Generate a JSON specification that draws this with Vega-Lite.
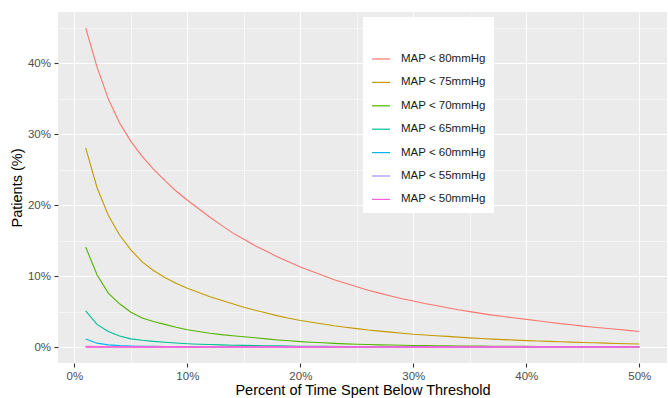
{
  "$schema": "https://vega.github.io/schema/vega-lite/v6.json",
  "width": 609,
  "height": 351,
  "autosize": {"type": "none"},
  "padding": {"left": 58, "top": 12, "right": 1, "bottom": 35},
  "background": "white",
  "config": {
    "view": {"fill": "#EBEBEB", "stroke": null},
    "font": "Liberation Sans"
  },
  "data": {
    "values": [
      {"s": "MAP < 80mmHg", "t": 1, "p": 45.0}, {"s": "MAP < 80mmHg", "t": 2, "p": 39.5}, {"s": "MAP < 80mmHg", "t": 3, "p": 35.0}, {"s": "MAP < 80mmHg", "t": 4, "p": 31.6}, {"s": "MAP < 80mmHg", "t": 5, "p": 29.0},
      {"s": "MAP < 80mmHg", "t": 6, "p": 26.9}, {"s": "MAP < 80mmHg", "t": 7, "p": 25.1}, {"s": "MAP < 80mmHg", "t": 8, "p": 23.5}, {"s": "MAP < 80mmHg", "t": 9, "p": 22.0}, {"s": "MAP < 80mmHg", "t": 10, "p": 20.7},
      {"s": "MAP < 80mmHg", "t": 11, "p": 19.5}, {"s": "MAP < 80mmHg", "t": 12, "p": 18.3}, {"s": "MAP < 80mmHg", "t": 13, "p": 17.2}, {"s": "MAP < 80mmHg", "t": 14, "p": 16.1}, {"s": "MAP < 80mmHg", "t": 15, "p": 15.2},
      {"s": "MAP < 80mmHg", "t": 16, "p": 14.3}, {"s": "MAP < 80mmHg", "t": 17, "p": 13.5}, {"s": "MAP < 80mmHg", "t": 18, "p": 12.7}, {"s": "MAP < 80mmHg", "t": 19, "p": 12.0}, {"s": "MAP < 80mmHg", "t": 20, "p": 11.3},
      {"s": "MAP < 80mmHg", "t": 21, "p": 10.7}, {"s": "MAP < 80mmHg", "t": 22, "p": 10.1}, {"s": "MAP < 80mmHg", "t": 23, "p": 9.5}, {"s": "MAP < 80mmHg", "t": 24, "p": 9.0}, {"s": "MAP < 80mmHg", "t": 25, "p": 8.5},
      {"s": "MAP < 80mmHg", "t": 26, "p": 8.0}, {"s": "MAP < 80mmHg", "t": 27, "p": 7.6}, {"s": "MAP < 80mmHg", "t": 28, "p": 7.2}, {"s": "MAP < 80mmHg", "t": 29, "p": 6.8}, {"s": "MAP < 80mmHg", "t": 30, "p": 6.5},
      {"s": "MAP < 80mmHg", "t": 31, "p": 6.15}, {"s": "MAP < 80mmHg", "t": 32, "p": 5.85}, {"s": "MAP < 80mmHg", "t": 33, "p": 5.55}, {"s": "MAP < 80mmHg", "t": 34, "p": 5.25}, {"s": "MAP < 80mmHg", "t": 35, "p": 5.0},
      {"s": "MAP < 80mmHg", "t": 36, "p": 4.75}, {"s": "MAP < 80mmHg", "t": 37, "p": 4.5}, {"s": "MAP < 80mmHg", "t": 38, "p": 4.3}, {"s": "MAP < 80mmHg", "t": 39, "p": 4.1}, {"s": "MAP < 80mmHg", "t": 40, "p": 3.9},
      {"s": "MAP < 80mmHg", "t": 41, "p": 3.7}, {"s": "MAP < 80mmHg", "t": 42, "p": 3.5}, {"s": "MAP < 80mmHg", "t": 43, "p": 3.3}, {"s": "MAP < 80mmHg", "t": 44, "p": 3.15}, {"s": "MAP < 80mmHg", "t": 45, "p": 2.95},
      {"s": "MAP < 80mmHg", "t": 46, "p": 2.8}, {"s": "MAP < 80mmHg", "t": 47, "p": 2.65}, {"s": "MAP < 80mmHg", "t": 48, "p": 2.5}, {"s": "MAP < 80mmHg", "t": 49, "p": 2.35}, {"s": "MAP < 80mmHg", "t": 50, "p": 2.2},

      {"s": "MAP < 75mmHg", "t": 1, "p": 28.1}, {"s": "MAP < 75mmHg", "t": 2, "p": 22.5}, {"s": "MAP < 75mmHg", "t": 3, "p": 18.6}, {"s": "MAP < 75mmHg", "t": 4, "p": 15.8}, {"s": "MAP < 75mmHg", "t": 5, "p": 13.7},
      {"s": "MAP < 75mmHg", "t": 6, "p": 12.0}, {"s": "MAP < 75mmHg", "t": 7, "p": 10.8}, {"s": "MAP < 75mmHg", "t": 8, "p": 9.8}, {"s": "MAP < 75mmHg", "t": 9, "p": 9.0}, {"s": "MAP < 75mmHg", "t": 10, "p": 8.3},
      {"s": "MAP < 75mmHg", "t": 11, "p": 7.7}, {"s": "MAP < 75mmHg", "t": 12, "p": 7.1}, {"s": "MAP < 75mmHg", "t": 13, "p": 6.6}, {"s": "MAP < 75mmHg", "t": 14, "p": 6.1}, {"s": "MAP < 75mmHg", "t": 15, "p": 5.6},
      {"s": "MAP < 75mmHg", "t": 16, "p": 5.2}, {"s": "MAP < 75mmHg", "t": 17, "p": 4.8}, {"s": "MAP < 75mmHg", "t": 18, "p": 4.4}, {"s": "MAP < 75mmHg", "t": 19, "p": 4.05}, {"s": "MAP < 75mmHg", "t": 20, "p": 3.75},
      {"s": "MAP < 75mmHg", "t": 21, "p": 3.5}, {"s": "MAP < 75mmHg", "t": 22, "p": 3.25}, {"s": "MAP < 75mmHg", "t": 23, "p": 3.0}, {"s": "MAP < 75mmHg", "t": 24, "p": 2.8}, {"s": "MAP < 75mmHg", "t": 25, "p": 2.6},
      {"s": "MAP < 75mmHg", "t": 26, "p": 2.4}, {"s": "MAP < 75mmHg", "t": 27, "p": 2.25}, {"s": "MAP < 75mmHg", "t": 28, "p": 2.1}, {"s": "MAP < 75mmHg", "t": 29, "p": 1.95}, {"s": "MAP < 75mmHg", "t": 30, "p": 1.8},
      {"s": "MAP < 75mmHg", "t": 31, "p": 1.7}, {"s": "MAP < 75mmHg", "t": 32, "p": 1.6}, {"s": "MAP < 75mmHg", "t": 33, "p": 1.5}, {"s": "MAP < 75mmHg", "t": 34, "p": 1.4}, {"s": "MAP < 75mmHg", "t": 35, "p": 1.3},
      {"s": "MAP < 75mmHg", "t": 36, "p": 1.2}, {"s": "MAP < 75mmHg", "t": 37, "p": 1.12}, {"s": "MAP < 75mmHg", "t": 38, "p": 1.05}, {"s": "MAP < 75mmHg", "t": 39, "p": 0.98}, {"s": "MAP < 75mmHg", "t": 40, "p": 0.9},
      {"s": "MAP < 75mmHg", "t": 41, "p": 0.85}, {"s": "MAP < 75mmHg", "t": 42, "p": 0.8}, {"s": "MAP < 75mmHg", "t": 43, "p": 0.75}, {"s": "MAP < 75mmHg", "t": 44, "p": 0.7}, {"s": "MAP < 75mmHg", "t": 45, "p": 0.65},
      {"s": "MAP < 75mmHg", "t": 46, "p": 0.6}, {"s": "MAP < 75mmHg", "t": 47, "p": 0.55}, {"s": "MAP < 75mmHg", "t": 48, "p": 0.5}, {"s": "MAP < 75mmHg", "t": 49, "p": 0.46}, {"s": "MAP < 75mmHg", "t": 50, "p": 0.42},

      {"s": "MAP < 70mmHg", "t": 1, "p": 14.1}, {"s": "MAP < 70mmHg", "t": 2, "p": 10.2}, {"s": "MAP < 70mmHg", "t": 3, "p": 7.6}, {"s": "MAP < 70mmHg", "t": 4, "p": 6.1}, {"s": "MAP < 70mmHg", "t": 5, "p": 4.9},
      {"s": "MAP < 70mmHg", "t": 6, "p": 4.1}, {"s": "MAP < 70mmHg", "t": 7, "p": 3.6}, {"s": "MAP < 70mmHg", "t": 8, "p": 3.2}, {"s": "MAP < 70mmHg", "t": 9, "p": 2.8}, {"s": "MAP < 70mmHg", "t": 10, "p": 2.45},
      {"s": "MAP < 70mmHg", "t": 11, "p": 2.2}, {"s": "MAP < 70mmHg", "t": 12, "p": 1.95}, {"s": "MAP < 70mmHg", "t": 13, "p": 1.75}, {"s": "MAP < 70mmHg", "t": 14, "p": 1.6}, {"s": "MAP < 70mmHg", "t": 15, "p": 1.45},
      {"s": "MAP < 70mmHg", "t": 16, "p": 1.3}, {"s": "MAP < 70mmHg", "t": 17, "p": 1.15}, {"s": "MAP < 70mmHg", "t": 18, "p": 1.0}, {"s": "MAP < 70mmHg", "t": 19, "p": 0.88}, {"s": "MAP < 70mmHg", "t": 20, "p": 0.77},
      {"s": "MAP < 70mmHg", "t": 21, "p": 0.68}, {"s": "MAP < 70mmHg", "t": 22, "p": 0.6}, {"s": "MAP < 70mmHg", "t": 23, "p": 0.52}, {"s": "MAP < 70mmHg", "t": 24, "p": 0.45}, {"s": "MAP < 70mmHg", "t": 25, "p": 0.4},
      {"s": "MAP < 70mmHg", "t": 26, "p": 0.35}, {"s": "MAP < 70mmHg", "t": 27, "p": 0.31}, {"s": "MAP < 70mmHg", "t": 28, "p": 0.28}, {"s": "MAP < 70mmHg", "t": 29, "p": 0.25}, {"s": "MAP < 70mmHg", "t": 30, "p": 0.22},
      {"s": "MAP < 70mmHg", "t": 31, "p": 0.2}, {"s": "MAP < 70mmHg", "t": 32, "p": 0.18}, {"s": "MAP < 70mmHg", "t": 33, "p": 0.17}, {"s": "MAP < 70mmHg", "t": 34, "p": 0.15}, {"s": "MAP < 70mmHg", "t": 35, "p": 0.14},
      {"s": "MAP < 70mmHg", "t": 36, "p": 0.13}, {"s": "MAP < 70mmHg", "t": 37, "p": 0.12}, {"s": "MAP < 70mmHg", "t": 38, "p": 0.11}, {"s": "MAP < 70mmHg", "t": 39, "p": 0.1}, {"s": "MAP < 70mmHg", "t": 40, "p": 0.09},
      {"s": "MAP < 70mmHg", "t": 41, "p": 0.085}, {"s": "MAP < 70mmHg", "t": 42, "p": 0.08}, {"s": "MAP < 70mmHg", "t": 43, "p": 0.07}, {"s": "MAP < 70mmHg", "t": 44, "p": 0.065}, {"s": "MAP < 70mmHg", "t": 45, "p": 0.06},
      {"s": "MAP < 70mmHg", "t": 46, "p": 0.055}, {"s": "MAP < 70mmHg", "t": 47, "p": 0.05}, {"s": "MAP < 70mmHg", "t": 48, "p": 0.045}, {"s": "MAP < 70mmHg", "t": 49, "p": 0.04}, {"s": "MAP < 70mmHg", "t": 50, "p": 0.04},

      {"s": "MAP < 65mmHg", "t": 1, "p": 5.1}, {"s": "MAP < 65mmHg", "t": 2, "p": 3.2}, {"s": "MAP < 65mmHg", "t": 3, "p": 2.2}, {"s": "MAP < 65mmHg", "t": 4, "p": 1.55}, {"s": "MAP < 65mmHg", "t": 5, "p": 1.15},
      {"s": "MAP < 65mmHg", "t": 6, "p": 0.95}, {"s": "MAP < 65mmHg", "t": 7, "p": 0.8}, {"s": "MAP < 65mmHg", "t": 8, "p": 0.68}, {"s": "MAP < 65mmHg", "t": 9, "p": 0.57}, {"s": "MAP < 65mmHg", "t": 10, "p": 0.47},
      {"s": "MAP < 65mmHg", "t": 11, "p": 0.4}, {"s": "MAP < 65mmHg", "t": 12, "p": 0.35}, {"s": "MAP < 65mmHg", "t": 13, "p": 0.3}, {"s": "MAP < 65mmHg", "t": 14, "p": 0.26}, {"s": "MAP < 65mmHg", "t": 15, "p": 0.23},
      {"s": "MAP < 65mmHg", "t": 16, "p": 0.2}, {"s": "MAP < 65mmHg", "t": 17, "p": 0.18}, {"s": "MAP < 65mmHg", "t": 18, "p": 0.16}, {"s": "MAP < 65mmHg", "t": 19, "p": 0.14}, {"s": "MAP < 65mmHg", "t": 20, "p": 0.12},
      {"s": "MAP < 65mmHg", "t": 22, "p": 0.1}, {"s": "MAP < 65mmHg", "t": 24, "p": 0.08}, {"s": "MAP < 65mmHg", "t": 26, "p": 0.07}, {"s": "MAP < 65mmHg", "t": 28, "p": 0.06}, {"s": "MAP < 65mmHg", "t": 30, "p": 0.05},
      {"s": "MAP < 65mmHg", "t": 35, "p": 0.04}, {"s": "MAP < 65mmHg", "t": 40, "p": 0.03}, {"s": "MAP < 65mmHg", "t": 45, "p": 0.02}, {"s": "MAP < 65mmHg", "t": 50, "p": 0.02},

      {"s": "MAP < 60mmHg", "t": 1, "p": 1.15}, {"s": "MAP < 60mmHg", "t": 2, "p": 0.55}, {"s": "MAP < 60mmHg", "t": 3, "p": 0.3}, {"s": "MAP < 60mmHg", "t": 4, "p": 0.2}, {"s": "MAP < 60mmHg", "t": 5, "p": 0.15},
      {"s": "MAP < 60mmHg", "t": 6, "p": 0.12}, {"s": "MAP < 60mmHg", "t": 7, "p": 0.1}, {"s": "MAP < 60mmHg", "t": 8, "p": 0.08}, {"s": "MAP < 60mmHg", "t": 9, "p": 0.07}, {"s": "MAP < 60mmHg", "t": 10, "p": 0.06},
      {"s": "MAP < 60mmHg", "t": 15, "p": 0.04}, {"s": "MAP < 60mmHg", "t": 20, "p": 0.03}, {"s": "MAP < 60mmHg", "t": 25, "p": 0.02}, {"s": "MAP < 60mmHg", "t": 30, "p": 0.02}, {"s": "MAP < 60mmHg", "t": 40, "p": 0.01}, {"s": "MAP < 60mmHg", "t": 50, "p": 0.01},

      {"s": "MAP < 55mmHg", "t": 1, "p": 0.12}, {"s": "MAP < 55mmHg", "t": 2, "p": 0.06}, {"s": "MAP < 55mmHg", "t": 3, "p": 0.04}, {"s": "MAP < 55mmHg", "t": 4, "p": 0.03}, {"s": "MAP < 55mmHg", "t": 5, "p": 0.02},
      {"s": "MAP < 55mmHg", "t": 10, "p": 0.01}, {"s": "MAP < 55mmHg", "t": 20, "p": 0.01}, {"s": "MAP < 55mmHg", "t": 30, "p": 0.0}, {"s": "MAP < 55mmHg", "t": 40, "p": 0.0}, {"s": "MAP < 55mmHg", "t": 50, "p": 0.0},

      {"s": "MAP < 50mmHg", "t": 1, "p": 0.03}, {"s": "MAP < 50mmHg", "t": 2, "p": 0.02}, {"s": "MAP < 50mmHg", "t": 3, "p": 0.01}, {"s": "MAP < 50mmHg", "t": 5, "p": 0.01}, {"s": "MAP < 50mmHg", "t": 10, "p": 0.0},
      {"s": "MAP < 50mmHg", "t": 20, "p": 0.0}, {"s": "MAP < 50mmHg", "t": 30, "p": 0.0}, {"s": "MAP < 50mmHg", "t": 40, "p": 0.0}, {"s": "MAP < 50mmHg", "t": 50, "p": 0.0}
    ]
  },
  "encoding": {
    "x": {
      "field": "t",
      "type": "quantitative",
      "scale": {"domain": [-1.45, 52.45], "nice": false, "zero": false},
      "axis": {
        "title": "Percent of Time Spent Below Threshold",
        "values": [0, 5, 10, 15, 20, 25, 30, 35, 40, 45, 50],
        "labelExpr": "datum.value % 10 == 0 ? datum.value + '%' : ''",
        "labelOverlap": false,
        "labelFlush": false,
        "grid": true,
        "gridColor": "white",
        "gridWidth": {"condition": {"test": "datum.value % 10 == 0", "value": 1.1}, "value": 0.55},
        "tickOpacity": {"condition": {"test": "datum.value % 10 == 0", "value": 1}, "value": 0},
        "tickColor": "#333333",
        "tickSize": 4,
        "tickWidth": 1.1,
        "domain": false,
        "labelColor": "#4D4D4D",
        "labelFontSize": 11.5,
        "labelPadding": 3,
        "titleFontSize": 14.5,
        "titleColor": "black",
        "titleFontWeight": "normal",
        "titlePadding": 2
      }
    },
    "y": {
      "field": "p",
      "type": "quantitative",
      "scale": {"domain": [-2.25, 47.25], "nice": false, "zero": false},
      "axis": {
        "title": "Patients (%)",
        "values": [0, 5, 10, 15, 20, 25, 30, 35, 40, 45],
        "labelExpr": "datum.value % 10 == 0 ? datum.value + '%' : ''",
        "labelOverlap": false,
        "labelFlush": false,
        "grid": true,
        "gridColor": "white",
        "gridWidth": {"condition": {"test": "datum.value % 10 == 0", "value": 1.1}, "value": 0.55},
        "tickOpacity": {"condition": {"test": "datum.value % 10 == 0", "value": 1}, "value": 0},
        "tickColor": "#333333",
        "tickSize": 4,
        "tickWidth": 1.1,
        "domain": false,
        "labelColor": "#4D4D4D",
        "labelFontSize": 11.5,
        "labelPadding": 3.5,
        "titleFontSize": 14.5,
        "titleColor": "black",
        "titleFontWeight": "normal",
        "titlePadding": 3
      }
    },
    "color": {
      "field": "s",
      "type": "nominal",
      "scale": {
        "domain": ["MAP < 80mmHg", "MAP < 75mmHg", "MAP < 70mmHg", "MAP < 65mmHg", "MAP < 60mmHg", "MAP < 55mmHg", "MAP < 50mmHg"],
        "range": ["#F8766D", "#C49A00", "#53B400", "#00C094", "#00B6EB", "#A58AFF", "#FB61D7"]
      },
      "legend": {
        "orient": "none",
        "legendX": 305,
        "legendY": 5,
        "title": " ",
        "titleFontSize": 11,
        "titlePadding": 13,
        "fillColor": "white",
        "strokeColor": null,
        "padding": 8,
        "symbolType": "stroke",
        "symbolStrokeWidth": 1.2,
        "symbolSize": 324,
        "labelFontSize": 11.5,
        "labelColor": "#1A1A1A",
        "labelOffset": 10,
        "labelLimit": 200,
        "rowPadding": 7.4
      }
    }
  },
  "layer": [
    {"mark": {"type": "line", "strokeWidth": 1.1}},
    {
      "transform": [{"filter": "datum.s == 'MAP < 50mmHg'"}],
      "mark": {"type": "line", "strokeWidth": 1.6}
    }
  ]
}
